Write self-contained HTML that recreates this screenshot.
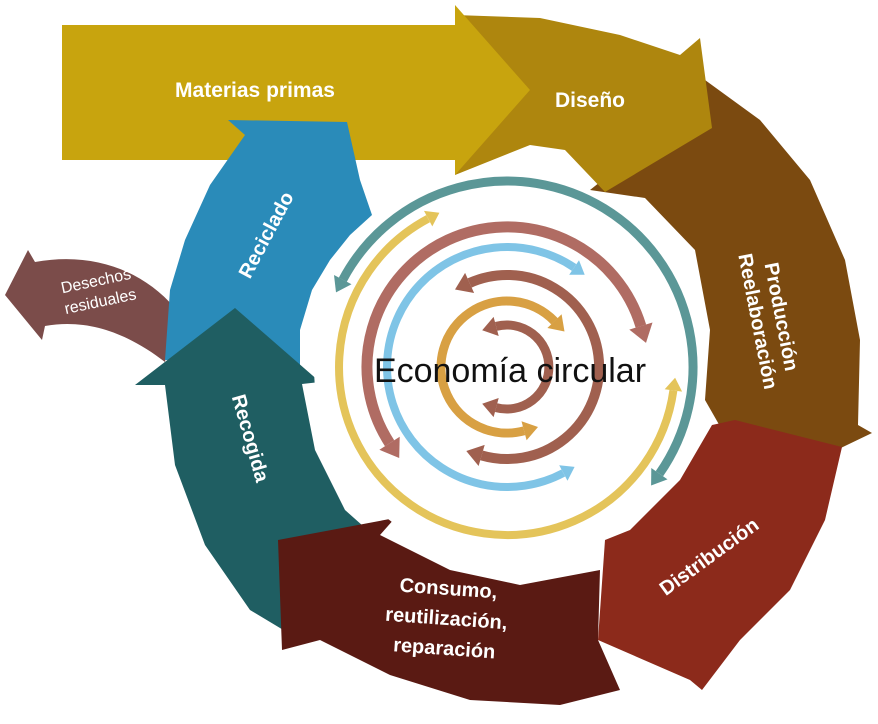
<!DOCTYPE html>
<html><head><meta charset="utf-8"><style>
html,body{margin:0;padding:0;background:#fff;width:878px;height:724px;overflow:hidden}
svg{display:block}
text{font-family:"Liberation Sans",sans-serif;fill:#fff}
</style></head><body>
<svg id="s" width="878" height="724" viewBox="0 0 878 724" xmlns="http://www.w3.org/2000/svg">
<path d="M175,308 C140,268 90,252 35,262 L28,250 L5,295 L42,340 L45,326 C90,318 130,335 165,362 Z" fill="#7b4c4a"/>
<!-- Producción -->
<polygon points="590,190 640,150 705,80 760,120 810,180 845,260 860,340 858,425 872,433 770,482 745,470 705,400 710,330 695,250 645,198" fill="#7b4a10"/>
<!-- Diseño -->
<polygon points="455,15 540,18 620,35 680,55 700,38 712,128 605,192 565,150 530,145 455,175" fill="#ae860e"/>
<!-- Materias primas -->
<polygon points="62,25 455,25 455,5 530,90 455,175 455,160 62,160" fill="#c8a40e"/>
<!-- Reciclado -->
<polygon points="165,360 170,290 185,240 210,185 245,135 228,120 347,122 360,180 372,215 350,235 330,260 312,290 300,330 300,365" fill="#2a8bb9"/>
<!-- Recogida -->
<polygon points="135,385 235,308 320,382 302,384 315,450 345,510 390,550 300,640 250,610 205,545 175,465 165,385" fill="#1f5e62"/>
<!-- Consumo -->
<polygon points="278,540 395,518 380,535 450,570 520,585 600,570 598,640 620,690 560,705 470,700 390,675 320,640 282,650" fill="#5a1a13"/>
<!-- Distribución -->
<polygon points="712,425 735,420 842,447 825,520 790,590 740,640 702,690 690,680 598,640 605,540 630,530 680,480" fill="#8c2a1b"/>
<circle cx="507" cy="367" r="193" fill="#fff"/>
<g id="inner"></g>
<text x="255" y="97" font-size="21" font-weight="bold" text-anchor="middle">Materias primas</text>
<text x="590" y="107" font-size="21" font-weight="bold" text-anchor="middle">Diseño</text>
<text x="0" y="0" font-size="20" font-weight="bold" text-anchor="middle" transform="translate(272,238) rotate(-62)">Reciclado</text>
<text x="0" y="0" font-size="20" font-weight="bold" text-anchor="middle" transform="translate(244,440) rotate(74)">Recogida</text>
<text font-size="20" font-weight="bold" text-anchor="middle" transform="translate(775,318) rotate(79)"><tspan x="0" y="0">Producción</tspan><tspan x="0" y="24">Reelaboración</tspan></text>
<text x="0" y="0" font-size="20" font-weight="bold" text-anchor="middle" transform="translate(713,562) rotate(-36)">Distribución</text>
<text font-size="20" font-weight="bold" text-anchor="middle" transform="translate(448,595) rotate(4)"><tspan x="0" y="0">Consumo,</tspan><tspan x="0" y="30">reutilización,</tspan><tspan x="0" y="60">reparación</tspan></text>
<text font-size="16" text-anchor="middle" transform="translate(97,286) rotate(-12)"><tspan x="0" y="0">Desechos</tspan><tspan x="0" y="21">residuales</tspan></text>
<text x="510" y="382" font-size="34" text-anchor="middle" style="fill:#111">Economía circular</text>
</svg>
<script>
var NS="http://www.w3.org/2000/svg";
var C=[507,367];
function P(r,a){a=a*Math.PI/180;return [C[0]+r*Math.cos(a),C[1]+r*Math.sin(a)];}
function f(p){return p[0].toFixed(1)+","+p[1].toFixed(1);}
function add(tag,attrs){var e=document.createElementNS(NS,tag);for(var k in attrs)e.setAttribute(k,attrs[k]);document.getElementById("inner").appendChild(e);return e;}
function arc(r,a1,a2,col,w,h1,h2){
  var large=Math.abs(a2-a1)>180?1:0, sw=a2>a1?1:0;
  add("path",{d:"M"+f(P(r,a1))+" A"+r+","+r+" 0 "+large+","+sw+" "+f(P(r,a2)),fill:"none",stroke:col,"stroke-width":w});
  function head(a,dir){var rad=a*Math.PI/180;var t=[-Math.sin(rad)*dir,Math.cos(rad)*dir];
    var p=P(r,a);var L=w*1.6,W=w*1.1;
    var tip=[p[0]+t[0]*L,p[1]+t[1]*L];
    add("polygon",{points:f(P(r+W,a))+" "+f(P(r-W,a))+" "+f(tip),fill:col});}
  var dir=a2>a1?1:-1;
  if(h2)head(a2,dir);
  if(h1)head(a1,-dir);
}
arc(186,208,395,"#5b9797",9,1,1);
arc(168,8,242,"#e4c45a",8,1,1);
arc(140,147,343,"#b06c63",11,1,1);
arc(120,-56,-298,"#7fc4e6",8,1,1);
arc(92,-114,106,"#a0604f",10,1,1);
arc(66,-44,-285,"#d8a043",9,1,1);
arc(42,-105,105,"#a0604f",9,1,1);
</script>
</body></html>
